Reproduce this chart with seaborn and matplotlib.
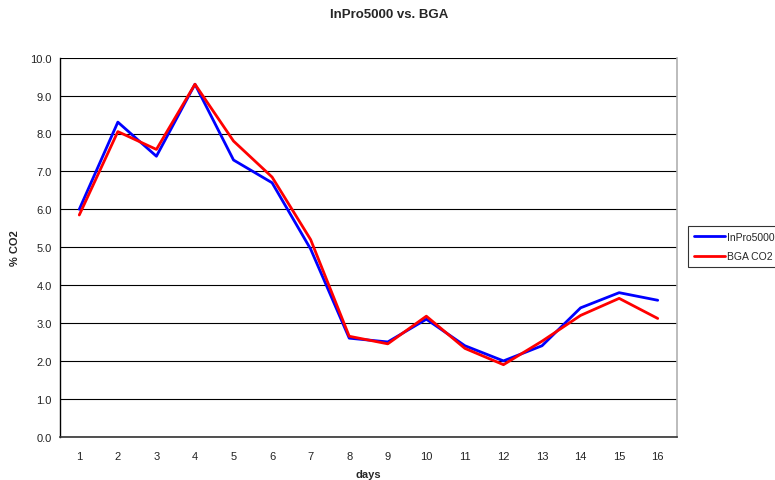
import numpy as np
import pandas as pd
import matplotlib
matplotlib.use("Agg")
import matplotlib.pyplot as plt
import seaborn as sns
from matplotlib.ticker import FixedLocator, FormatStrFormatter

days = list(range(1, 17))
inpro5000 = [6.0, 8.3, 7.4, 9.3, 7.3, 6.7, 4.95, 2.6, 2.5, 3.1, 2.4, 2.0, 2.4, 3.4, 3.8, 3.6]
bga_co2 = [5.85, 8.05, 7.58, 9.3, 7.8, 6.85, 5.2, 2.65, 2.45, 3.18, 2.33, 1.9, 2.52, 3.2, 3.65, 3.12]
series_names = ["InPro5000", "BGA CO2"]
series_colors = ["#0000FF", "#FF0000"]
title = "InPro5000 vs. BGA"
xlabel = "days"
ylabel = "% CO2"

df = pd.concat([
    pd.DataFrame({"day": days, "value": inpro5000, "series": series_names[0]}),
    pd.DataFrame({"day": days, "value": bga_co2, "series": series_names[1]}),
])

sns.set_style("white")
plt.rcParams["font.family"] = ["Liberation Sans", "DejaVu Sans"]

fig = plt.figure(figsize=(7.75, 4.81), dpi=100)
ax = fig.add_axes([60 / 775, 1 - 437.7 / 481, 617 / 775, 379 / 481])

sns.lineplot(data=df, x="day", y="value", hue="series", hue_order=series_names,
             palette=series_colors, linewidth=2.0, ax=ax, legend=True)

ax.set_xlim(0.5, 16.5)
ax.set_ylim(0, 10)
ax.yaxis.set_major_locator(FixedLocator(np.arange(0, 10.01, 1.0)))
ax.yaxis.set_major_formatter(FormatStrFormatter("%.1f"))
ax.xaxis.set_major_locator(FixedLocator(days))
ax.xaxis.set_minor_locator(FixedLocator(np.arange(0.5, 16.6, 1.0)))
ax.tick_params(axis="x", which="major", length=0, labelsize=8, pad=10, colors="#222222")
ax.tick_params(axis="x", which="minor", length=3, width=0.9, direction="out", color="#222222")
ax.tick_params(axis="y", which="major", length=3, width=0.9, direction="out", labelsize=8,
               pad=3, colors="#222222")
ax.tick_params(axis="both", labelcolor="#222222")

ax.grid(axis="y", color="#000000", linewidth=0.8)
ax.grid(axis="x", visible=False)
ax.set_axisbelow(True)

ax.spines["left"].set_color("#000000")
ax.spines["left"].set_linewidth(1.0)
ax.spines["bottom"].set_color("#333333")
ax.spines["bottom"].set_linewidth(1.2)
ax.spines["right"].set_color("#b0b0b0")
ax.spines["right"].set_linewidth(1.2)
ax.spines["top"].set_visible(False)

ax.set_xlabel(xlabel, fontsize=8, fontweight="bold", labelpad=6)
ax.set_ylabel(ylabel, fontsize=8, fontweight="bold", labelpad=7)
fig.text(389 / 775, 1 - 15 / 481, title, ha="center", va="center", fontsize=9.5, fontweight="bold")

handles, labels = ax.get_legend_handles_labels()
ax.legend_.remove()
leg = fig.legend(handles, labels, loc="center left", bbox_to_anchor=(688 / 775, 1 - 247.5 / 481),
                 bbox_transform=fig.transFigure, frameon=True, fancybox=False, fontsize=7.5,
                 handlelength=3.0, handletextpad=0.2, labelspacing=0.95, borderpad=0.55,
                 borderaxespad=0.0)
leg.get_frame().set_edgecolor("#000000")
leg.get_frame().set_linewidth(0.8)
for line in leg.get_lines():
    line.set_linewidth(2.0)

fig.savefig("out.png", dpi=100)
